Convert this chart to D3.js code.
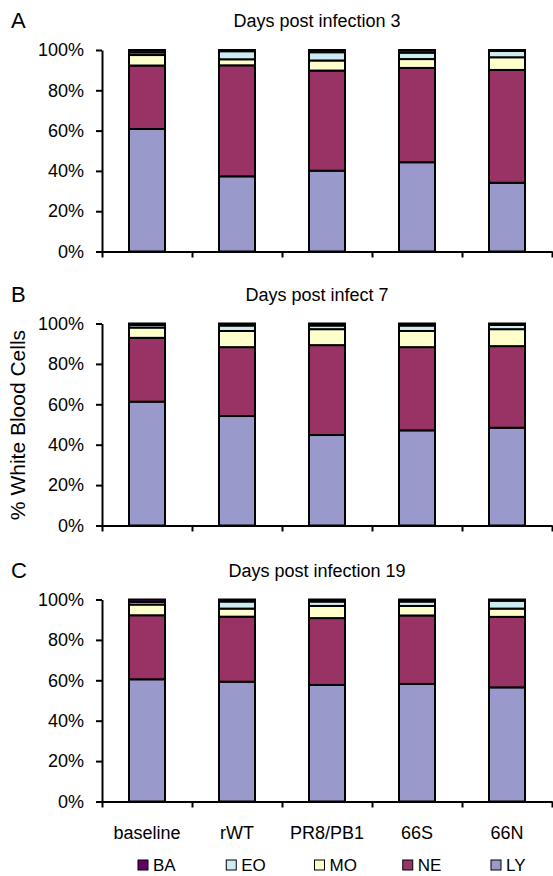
<!DOCTYPE html>
<html>
<head>
<meta charset="utf-8">
<script src="https://cdn.jsdelivr.net/npm/d3@7"></script>
<style>
  body { margin: 0; background: #fff; }
  text { font-family: Arial, "Liberation Sans", sans-serif; fill: #000; }
</style>
</head>
<body>
<script>
// categories, series and tick labels
var categories = ['baseline', 'rWT', 'PR8/PB1', '66S', '66N'];
var series = ['LY', 'NE', 'MO', 'EO', 'BA'];
var legendOrder = ['BA', 'EO', 'MO', 'NE', 'LY'];
var yTicks = [0, 20, 40, 60, 80, 100];

// percent of white blood cells, day 3
var LY_d3 = [60.8, 37.3, 40.1, 44.3, 34.1];
var NE_d3 = [31.5, 55.1, 49.7, 46.8, 56.0];
var MO_d3 = [5.2, 3.0, 5.0, 4.4, 6.3];
var EO_d3 = [1.3, 4.0, 4.1, 3.2, 3.1];
var BA_d3 = [1.2, 0.6, 1.1, 1.3, 0.5];

// day 7
var LY_d7 = [61.3, 54.2, 44.8, 47.1, 48.4];
var NE_d7 = [31.6, 34.1, 44.5, 41.2, 40.4];
var MO_d7 = [5.1, 8.0, 7.9, 8.0, 8.4];
var EO_d7 = [1.3, 2.7, 1.8, 2.7, 2.1];
var BA_d7 = [0.7, 1.0, 1.0, 1.0, 0.7];

// day 19
var LY_d19 = [60.5, 59.3, 57.7, 58.2, 56.5];
var NE_d19 = [31.7, 32.2, 33.1, 33.9, 34.9];
var MO_d19 = [5.3, 4.0, 6.0, 4.7, 4.1];
var EO_d19 = [1.3, 3.5, 2.2, 2.2, 3.9];
var BA_d19 = [1.2, 1.0, 1.0, 1.0, 0.6];

var colors = {LY: '#9999cc', NE: '#993366', MO: '#ffffcc', EO: '#ccecf2', BA: '#660066'};

var panels = [
  {letter: 'A', title: 'Days post infection 3', top: 50, bottom: 251.5,
   vals: {LY: LY_d3, NE: NE_d3, MO: MO_d3, EO: EO_d3, BA: BA_d3}},
  {letter: 'B', title: 'Days post infect 7', top: 323.5, bottom: 525.5,
   vals: {LY: LY_d7, NE: NE_d7, MO: MO_d7, EO: EO_d7, BA: BA_d7}},
  {letter: 'C', title: 'Days post infection 19', top: 599.5, bottom: 801.5,
   vals: {LY: LY_d19, NE: NE_d19, MO: MO_d19, EO: EO_d19, BA: BA_d19}}
];

var svg = d3.select('body').append('svg')
  .attr('width', 553).attr('height', 876);

var left = 102, right = 552;
var x = d3.scaleBand().domain(categories).range([left, right])
  .paddingInner(0.6).paddingOuter(0.3);
var xEdge = d3.scaleLinear().domain([0, categories.length]).range([left, right]);

panels.forEach(function(p, pi) {
  var y = d3.scaleLinear().domain([0, 100]).range([p.bottom, p.top]);
  var g = svg.append('g');

  // turn the per-series arrays into rows for d3.stack
  var rows = categories.map(function(c, i) {
    var r = {cat: c};
    series.forEach(function(s) { r[s] = p.vals[s][i]; });
    return r;
  });
  var stacked = d3.stack().keys(series)(rows);

  g.selectAll('g.layer').data(stacked).enter().append('g')
    .attr('class', 'layer')
    .attr('fill', function(d) { return colors[d.key]; })
    .selectAll('rect').data(function(d) { return d; }).enter().append('rect')
    .attr('x', function(d) { return x(d.data.cat); })
    .attr('width', x.bandwidth())
    .attr('y', function(d) { return y(d[1]); })
    .attr('height', function(d) { return y(d[0]) - y(d[1]); })
    .attr('stroke', '#000').attr('stroke-width', 2);

  // y axis
  var ya = g.append('g').attr('transform', 'translate(' + left + ',0)')
    .call(d3.axisLeft(y).tickValues(yTicks).tickSize(6).tickSizeOuter(0)
      .tickPadding(12).tickFormat(function(d) { return d + '%'; }));
  ya.selectAll('text').style('font-size', '18px');
  ya.selectAll('line, path').attr('stroke', '#000').attr('stroke-width', 2);

  // x axis with ticks on the category boundaries
  var xa = g.append('g').attr('transform', 'translate(0,' + p.bottom + ')')
    .call(d3.axisBottom(xEdge).tickValues(d3.range(categories.length + 1))
      .tickSize(6).tickSizeOuter(0).tickFormat(''));
  xa.selectAll('line, path').attr('stroke', '#000').attr('stroke-width', 2);

  if (pi === panels.length - 1) {
    var xl = g.append('g').attr('transform', 'translate(0,' + p.bottom + ')')
      .call(d3.axisBottom(x).tickSize(0).tickPadding(25));
    xl.select('.domain').remove();
    xl.selectAll('text').style('font-size', '18px');
  }

  // title and panel letter
  svg.append('text').attr('x', 317).attr('y', p.top - 23)
    .attr('text-anchor', 'middle').style('font-size', '18px').text(p.title);
  svg.append('text').attr('x', 11).attr('y', p.top - 22)
    .style('font-size', '22px').text(p.letter);
});

// y axis title
svg.append('text')
  .attr('transform', 'translate(25,425) rotate(-90)')
  .attr('text-anchor', 'middle').style('font-size', '21px')
  .text('% White Blood Cells');

// legend
var lx = d3.scalePoint().domain(legendOrder).range([138, 491]);
var leg = svg.selectAll('g.leg').data(legendOrder).enter().append('g')
  .attr('class', 'leg')
  .attr('transform', function(d) { return 'translate(' + lx(d) + ',860)'; });
leg.append('rect').attr('width', 10).attr('height', 10)
  .attr('fill', function(d) { return colors[d]; })
  .attr('stroke', '#000').attr('stroke-width', 1);
leg.append('text').attr('x', 15).attr('y', 11)
  .style('font-size', '17px').text(function(d) { return d; });
</script>
</body>
</html>
